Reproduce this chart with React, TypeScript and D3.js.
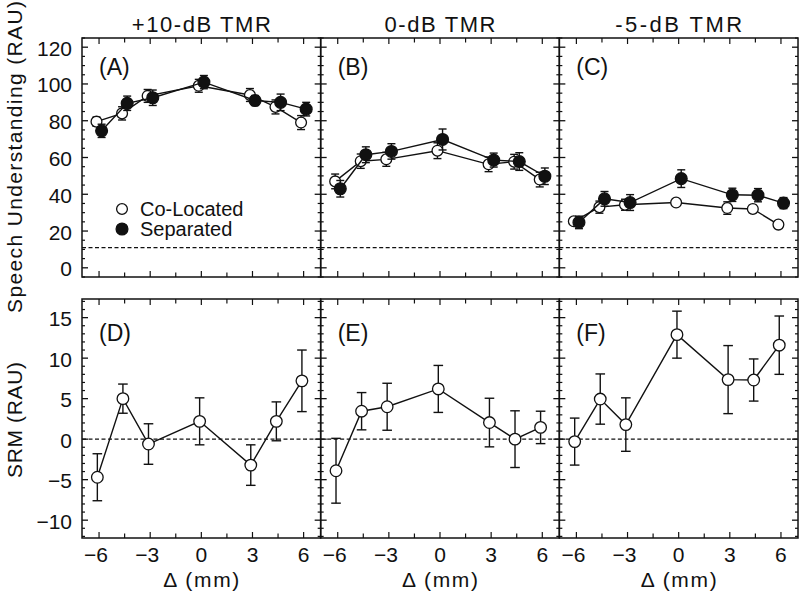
import React from "react";
import * as d3 from "d3";

// ---- data ----
const deltas = [-6, -4.5, -3, 0, 3, 4.5, 6];
const conditions = ["+10-dB TMR", "0-dB TMR", "-5-dB TMR"];
const topLabels = ["(A)", "(B)", "(C)"];
const botLabels = ["(D)", "(E)", "(F)"];

const coLocated = [
  [79.5, 84, 93.5, 99, 94, 87.5, 79],
  [47, 58, 59, 63.7, 56.3, 57.7, 48],
  [25.3, 33, 34.3, 35.5, 32.5, 32, 23.5],
];
const coLocatedErr = [
  [2.5, 3.6, 3.5, 3.5, 3.5, 3.8, 3.8],
  [4, 3.9, 3.8, 4.3, 4, 4, 4],
  [1.5, 3.3, 3, 1.5, 3.4, 2, 1.5],
];
const separated = [
  [74.5, 89.5, 92.5, 101, 91, 90, 86.3],
  [43, 61.5, 63.3, 69.8, 58.6, 57.8, 49.8],
  [24.7, 37.5, 35.5, 48.5, 39.7, 39.5, 35.2],
];
const separatedErr = [
  [3.6, 3.9, 4.2, 3.6, 2.7, 4.5, 3.7],
  [4.5, 4.3, 4.2, 5.7, 3.8, 4.8, 4.5],
  [3.4, 4, 4.3, 4.8, 3.6, 3.6, 3],
];
const srm = [
  [-4.7, 5, -0.6, 2.2, -3.2, 2.2, 7.2],
  [-3.9, 3.45, 4.0, 6.2, 2.05, 0, 1.45],
  [-0.3, 4.95, 1.8, 12.9, 7.35, 7.3, 11.6],
];
const srmErr = [
  [2.9, 1.8, 2.5, 2.9, 2.5, 2.4, 3.8],
  [4, 2.3, 2.9, 2.9, 3, 3.5, 2],
  [2.9, 3.1, 3.3, 2.9, 4.2, 2.6, 3.6],
];

const topTicks = [0, 20, 40, 60, 80, 100, 120];
const botTicks = [-10, -5, 0, 5, 10, 15];
const xTickLabels = [-6, -3, 0, 3, 6];
const xMinor = [-6, -4.5, -3, -1.5, 0, 1.5, 3, 4.5, 6];
const chanceLevel = 11;

// ---- layout ----
const W = 800, H = 592;
const left0 = 82, panelW = 238.67;
const topTop = 38, topBot = 277, botTop = 299, botBot = 538;
const FONT = "'Liberation Sans', Arial, sans-serif";
const INK = "#111";

const yTop = d3.scaleLinear().domain([-5, 125]).range([topBot, topTop]);
const yBot = d3.scaleLinear().domain([-12.2, 17.3]).range([botBot, botTop]);

const fmt = (v: number) => (v < 0 ? "\u2212" + Math.abs(v) : String(v));

function Frame({ x, y, top, bot, majors, minors }: any) {
  const l = x.range()[0], r = x.range()[1];
  return (
    <g stroke={INK} fill="none">
      {minors.map((v: number, i: number) => (
        <g key={"m" + i} strokeWidth={1.2}>
          <line x1={l} x2={l + 3} y1={y(v)} y2={y(v)} />
          <line x1={r} x2={r - 3} y1={y(v)} y2={y(v)} />
        </g>
      ))}
      {majors.map((v: number, i: number) => (
        <g key={"M" + i} strokeWidth={1.3}>
          <line x1={l} x2={l + 6} y1={y(v)} y2={y(v)} />
          <line x1={r} x2={r - 6} y1={y(v)} y2={y(v)} />
        </g>
      ))}
      {xMinor.map((v, i) => {
        const len = xTickLabels.includes(v) ? 6 : 4.5;
        return (
          <g key={"x" + i} strokeWidth={1.2}>
            <line x1={x(v)} x2={x(v)} y1={bot} y2={bot - len} />
            <line x1={x(v)} x2={x(v)} y1={top} y2={top + len} />
          </g>
        );
      })}
      <rect x={l} y={top} width={r - l} height={bot - top} strokeWidth={1.5} />
    </g>
  );
}

function Series({ x, y, vals, errs, off, filled, r, cap }: any) {
  const line = d3
    .line<number>()
    .x((_, i) => x(deltas[i] + off))
    .y((d) => y(d));
  return (
    <g>
      <path d={line(vals) || ""} fill="none" stroke={INK} strokeWidth={1.4} />
      {vals.map((v: number, i: number) => {
        const cx = x(deltas[i] + off);
        const y1 = y(v + errs[i]), y2 = y(v - errs[i]);
        return (
          <g key={i} stroke={INK} strokeWidth={1.4}>
            <line x1={cx} x2={cx} y1={y1} y2={y2} />
            <line x1={cx - cap} x2={cx + cap} y1={y1} y2={y1} />
            <line x1={cx - cap} x2={cx + cap} y1={y2} y2={y2} />
          </g>
        );
      })}
      {vals.map((v: number, i: number) => (
        <circle
          key={"c" + i}
          cx={x(deltas[i] + off)}
          cy={y(v)}
          r={r}
          fill={filled ? INK : "#fff"}
          stroke={INK}
          strokeWidth={1.3}
        />
      ))}
    </g>
  );
}

const titleLens = [139, 111, 127];

export default function App() {
  const topMinor = d3.range(-5, 126, 5).filter((v) => !topTicks.includes(v));
  const botMinor = d3.range(-12, 18, 1).filter((v) => !botTicks.includes(v));
  return (
    <svg
      width={W}
      height={H}
      style={{ position: "absolute", left: 0, top: 0, background: "#fff" }}
      fontFamily={FONT}
    >
      <rect width={W} height={H} fill="#fff" />
      {conditions.map((c, p) => {
        const l = left0 + p * panelW;
        const x = d3.scaleLinear().domain([-7, 7]).range([l, l + panelW]);
        return (
          <g key={p}>
            {/* top panel */}
            <line x1={l} x2={l + panelW} y1={yTop(chanceLevel)} y2={yTop(chanceLevel)}
              stroke={INK} strokeWidth={1.3} strokeDasharray="4,2.5" />
            <Series x={x} y={yTop} vals={coLocated[p]} errs={coLocatedErr[p]} off={-0.15} filled={false} r={5.4} cap={4} />
            <Series x={x} y={yTop} vals={separated[p]} errs={separatedErr[p]} off={0.15} filled={true} r={5.9} cap={4} />
            <Frame x={x} y={yTop} top={topTop} bot={topBot} majors={topTicks} minors={topMinor} />
            <text x={l + panelW / 2} y={32} fontSize={22} textAnchor="middle" textLength={titleLens[p]} lengthAdjust="spacing" fill={INK}>{c}</text>
            <text x={l + 17} y={topTop + 37} fontSize={23} fill={INK}>{topLabels[p]}</text>

            {/* bottom panel */}
            <line x1={l} x2={l + panelW} y1={yBot(0)} y2={yBot(0)}
              stroke={INK} strokeWidth={1.3} strokeDasharray="4,2.5" />
            <Series x={x} y={yBot} vals={srm[p]} errs={srmErr[p]} off={-0.1} filled={false} r={5.8} cap={4.8} />
            <Frame x={x} y={yBot} top={botTop} bot={botBot} majors={botTicks} minors={botMinor} />
            <text x={l + 17} y={botTop + 42} fontSize={23} fill={INK}>{botLabels[p]}</text>
            {xTickLabels.map((v) => (
              <text key={v} x={x(v) - (v < 0 ? 3 : 0)} y={562} fontSize={21} textAnchor="middle" fill={INK}>{fmt(v)}</text>
            ))}
            <text x={l + panelW / 2} y={587} fontSize={21} textAnchor="middle" textLength={76} lengthAdjust="spacing" fill={INK}>Δ  (mm)</text>
          </g>
        );
      })}
      {topTicks.map((v) => (
        <text key={"t" + v} x={72} y={yTop(v) + 1} fontSize={21} textAnchor="end" dominantBaseline="central" fill={INK}>{fmt(v)}</text>
      ))}
      {botTicks.map((v) => (
        <text key={"b" + v} x={72} y={yBot(v) + 1} fontSize={21} textAnchor="end" dominantBaseline="central" fill={INK}>{fmt(v)}</text>
      ))}
      <text transform="translate(22,157) rotate(-90)" fontSize={21} textAnchor="middle" textLength={312} lengthAdjust="spacing" fill={INK}>Speech Understanding (RAU)</text>
      <text transform="translate(22,420) rotate(-90)" fontSize={21} textAnchor="middle" textLength={116} lengthAdjust="spacing" fill={INK}>SRM (RAU)</text>
      {/* legend */}
      <circle cx={122} cy={209} r={5.4} fill="#fff" stroke={INK} strokeWidth={1.3} />
      <circle cx={122} cy={229} r={5.9} fill={INK} stroke={INK} strokeWidth={1.3} />
      <text x={140} y={209} fontSize={20} dominantBaseline="central" fill={INK}>Co-Located</text>
      <text x={140} y={229} fontSize={20} dominantBaseline="central" fill={INK}>Separated</text>
    </svg>
  );
}
